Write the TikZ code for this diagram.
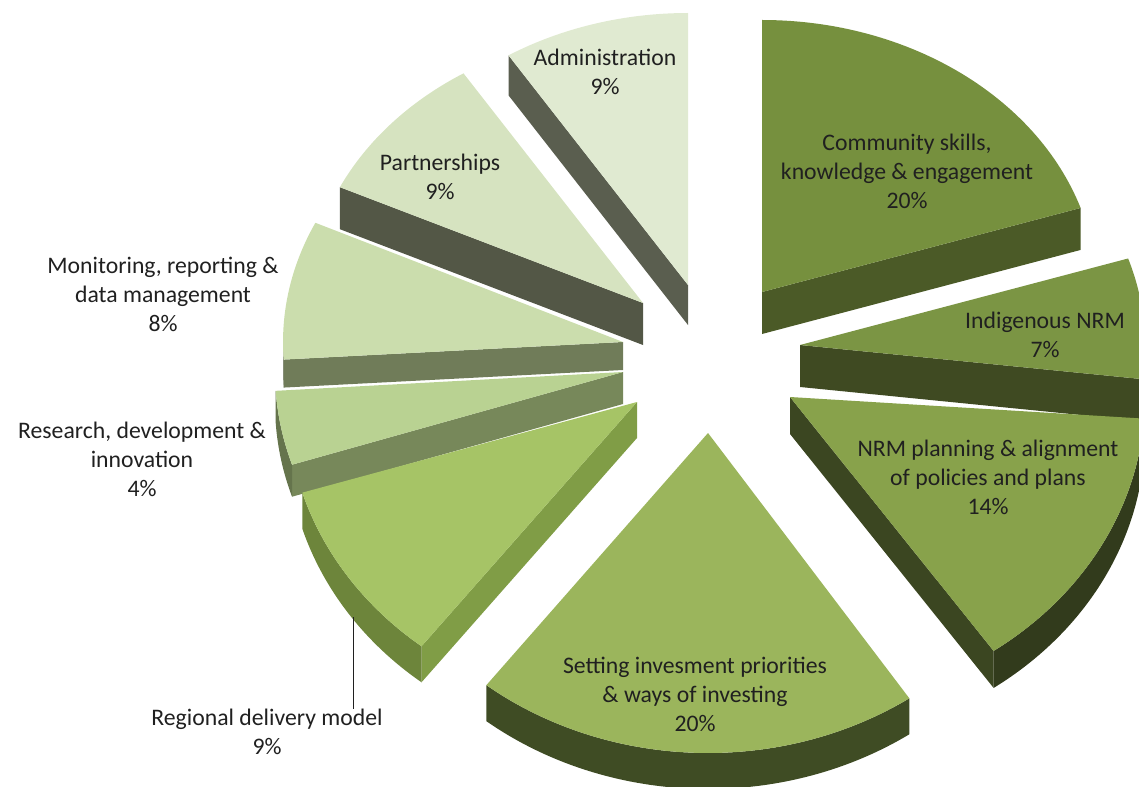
\documentclass[tikz,border=0pt]{standalone}
\usepackage{fontspec}
\setmainfont{Carlito}
\definecolor{txt}{HTML}{202020}
\definecolor{admtop}{HTML}{E0EAD1}\definecolor{admside}{HTML}{5A5E4F}
\definecolor{partop}{HTML}{D6E3C0}\definecolor{parside}{HTML}{535746}
\definecolor{montop}{HTML}{CBDDAD}\definecolor{monside}{HTML}{707C59}
\definecolor{restop}{HTML}{B9D292}\definecolor{resside}{HTML}{77885A}
\definecolor{regtop}{HTML}{A6C466}\definecolor{regside}{HTML}{809D46}
\definecolor{settop}{HTML}{9BB55C}\definecolor{setside}{HTML}{4A5A2B}
\definecolor{nrmtop}{HTML}{88A24B}\definecolor{nrmside}{HTML}{3B4621}
\definecolor{indtop}{HTML}{7B9544}\definecolor{indside}{HTML}{3F4A22}
\definecolor{comtop}{HTML}{76903E}\definecolor{comside}{HTML}{4B5A27}
\begin{document}
\begin{tikzpicture}[x=0.02cm, y=-0.02cm,
    lbl/.style={align=center, inner sep=0pt, text=txt, font=\fontsize{13.5}{16.5}\selectfont}]
  \useasboundingbox (0,0) rectangle (1139,787);
  \clip (0,0) rectangle (1139,787);
  % slices from back to front: apex, angles, radii, height, colours
  \foreach \px/\py/\a/\b/\rx/\ry/\h/\topc/\sidec in {
      688/285/-122.4/-90/335/272/40/admtop/admside,
      762/292/-90/-18/335/272/42/comtop/comside,
      643/303/-154.8/-122.4/335/272/42/partop/parside,
      800/345/-18/7/345/280/42/indtop/indside,
      623/342/176.4/205.2/340/280/28/montop/monside,
      623/372/162/176.4/348/300/32/restop/resside,
      790/397/4/55/355/310/37/nrmtop/nrmside,
      637/402/128/163/350/310/36/regtop/regside,
      708/433/56/128/360/320/36/settop/setside}
  {
    % wall on the first edge
    \pgfmathtruncatemacro\vis{cos(\a)<-0.01}
    \ifnum\vis=1
      \fill[\sidec] (\px,\py) -- ++(xyz polar cs:angle=\a, x radius=\rx, y radius=\ry)
        -- ++(0,\h) -- (\px,\py+\h) -- cycle;
    \fi
    % wall on the second edge
    \pgfmathtruncatemacro\vis{cos(\b)>0.01}
    \ifnum\vis=1
      \fill[\sidec] (\px,\py) -- ++(xyz polar cs:angle=\b, x radius=\rx, y radius=\ry)
        -- ++(0,\h) -- (\px,\py+\h) -- cycle;
    \fi
    % rim in front
    \pgfmathsetmacro\arcA{max(\a,0)}
    \pgfmathsetmacro\arcB{min(\b,180)}
    \pgfmathtruncatemacro\vis{\arcA<\arcB}
    \ifnum\vis=1
      \fill[\sidec!85!black] (\px,\py) ++(xyz polar cs:angle=\arcA, x radius=\rx, y radius=\ry)
        arc[start angle=\arcA, end angle=\arcB, x radius=\rx, y radius=\ry] -- ++(0,\h)
        arc[start angle=\arcB, end angle=\arcA, x radius=\rx, y radius=\ry] -- cycle;
    \fi
    % top face
    \fill[\topc] (\px,\py) -- ++(xyz polar cs:angle=\a, x radius=\rx, y radius=\ry)
      arc[start angle=\a, end angle=\b, x radius=\rx, y radius=\ry] -- cycle;
  }
  \node[lbl] (admin) at (605,72) {Administration\\9\%};
  \node[lbl] (partner) at (440,177) {Partnerships\\9\%};
  \node[lbl] (commun) at (907,171) {Community skills,\\knowledge \& engagement\\20\%};
  \node[lbl] (indig) at (1045,335) {Indigenous NRM\\7\%};
  \node[lbl] (nrmplan) at (988,477) {NRM planning \& alignment\\of policies and plans\\14\%};
  \node[lbl] (setting) at (695,694) {Setting invesment priorities\\\& ways of investing\\20\%};
  \node[lbl] (monitor) at (163,294) {Monitoring, reporting \&\\data management\\8\%};
  \node[lbl] (research) at (142,459) {Research, development \&\\innovation\\4\%};
  \node[lbl] (regional) at (267,732) {Regional delivery model\\9\%};
  \coordinate (regtip) at (353,617);
  \draw[txt, thin] (regtip) -- (regtip |- regional.north);
\end{tikzpicture}
\end{document}
